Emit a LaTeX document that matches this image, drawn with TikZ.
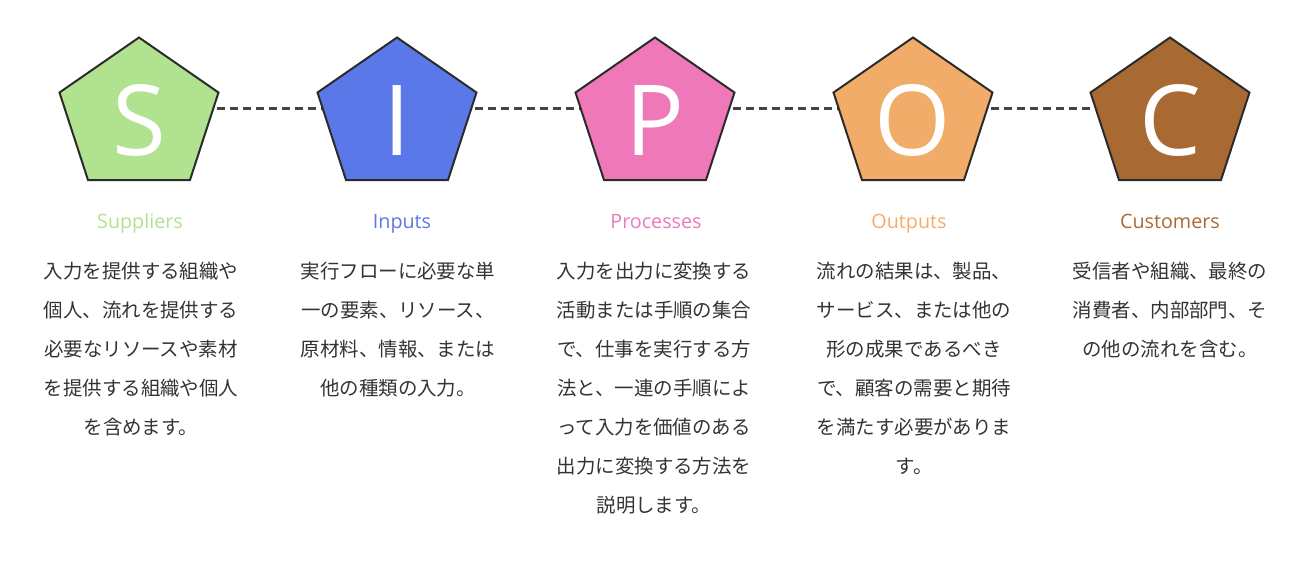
\documentclass[tikz,border=0pt]{standalone}
\usepackage{fontspec}
\setmainfont{Open Sans}
\newfontfamily\jp{Noto Sans CJK JP}
\definecolor{sgreen}{HTML}{B0E28F}
\definecolor{iblue}{HTML}{5B78E8}
\definecolor{ppink}{HTML}{EE78B8}
\definecolor{oorange}{HTML}{F2AC6A}
\definecolor{cbrown}{HTML}{A86A32}
\definecolor{edge}{HTML}{2B2B2B}
\definecolor{bodygray}{HTML}{333333}
\definecolor{dashgray}{HTML}{444444}
\begin{document}
\begin{tikzpicture}[x=0.75pt,y=-0.75pt,
  pentafill/.style={fill=#1, draw=edge, line width=1.5pt, line join=miter},
  letter/.style={text=white, font=\fontsize{73.5pt}{80pt}\selectfont, anchor=base, inner sep=0pt},
  title/.style={text=#1, font=\fontsize{14.8pt}{16pt}\selectfont, anchor=base, inner sep=0pt},
  body/.style={text=bodygray, font=\jp\fontsize{14.6pt}{29.25pt}\selectfont, align=center, anchor=north, inner sep=0pt},
  conn/.style={draw=dashgray, line width=1.6pt, dash pattern=on 6pt off 3.75pt}]
\useasboundingbox (0,0) rectangle (1311,562);
% centre coordinates for connectors
\coordinate (c1) at (139,108.5);
\coordinate (c2) at (397,108.5);
\coordinate (c3) at (655,108.5);
\coordinate (c4) at (913,108.5);
\coordinate (c5) at (1170,108.5);
\draw[conn] (c1) -- (c2);
\draw[conn] (c2) -- (c3);
\draw[conn] (c3) -- (c4);
\draw[conn] (c4) -- (c5);
% pentagons
\foreach \cx/\col in {139/sgreen, 397/iblue, 655/ppink, 913/oorange, 1170/cbrown}{
  \path[pentafill=\col] (\cx,37.5) -- (\cx+79.5,92.5) -- (\cx+51,180) -- (\cx-51,180) -- (\cx-79.5,92.5) -- cycle;
}
% letters
\node[letter] (L1) at (139,155) {S};
\node[letter] (L2) at (397,155) {I};
\node[letter] (L3) at (655,155) {P};
\node[letter] (L4) at (913,155) {O};
\node[letter] (L5) at (1170,155) {C};
% titles
\node[title=sgreen] (h1) at (140,228) {Suppliers};
\node[title=iblue] (h2) at (402,228) {Inputs};
\node[title=ppink] (h3) at (656,228) {Processes};
\node[title=oorange] (h4) at (909,228) {Outputs};
\node[title=cbrown] (h5) at (1170,228) {Customers};
% descriptions
\node[body] (t1) at (141,262) {入力を提供する組織や\\個人、流れを提供する\\必要なリソースや素材\\を提供する組織や個人\\を含めます。};
\node[body] (t2) at (398,262) {実行フローに必要な単\\一の要素、リソース、\\原材料、情報、または\\他の種類の入力。};
\node[body] (t3) at (654,262) {入力を出力に変換する\\活動または手順の集合\\で、仕事を実行する方\\法と、一連の手順によ\\って入力を価値のある\\出力に変換する方法を\\説明します。};
\node[body] (t4) at (914,262) {流れの結果は、製品、\\サービス、または他の\\形の成果であるべき\\で、顧客の需要と期待\\を満たす必要がありま\\す。};
\node[body] (t5) at (1170,262) {受信者や組織、最終の\\消費者、内部部門、そ\\の他の流れを含む。};
\end{tikzpicture}
\end{document}
